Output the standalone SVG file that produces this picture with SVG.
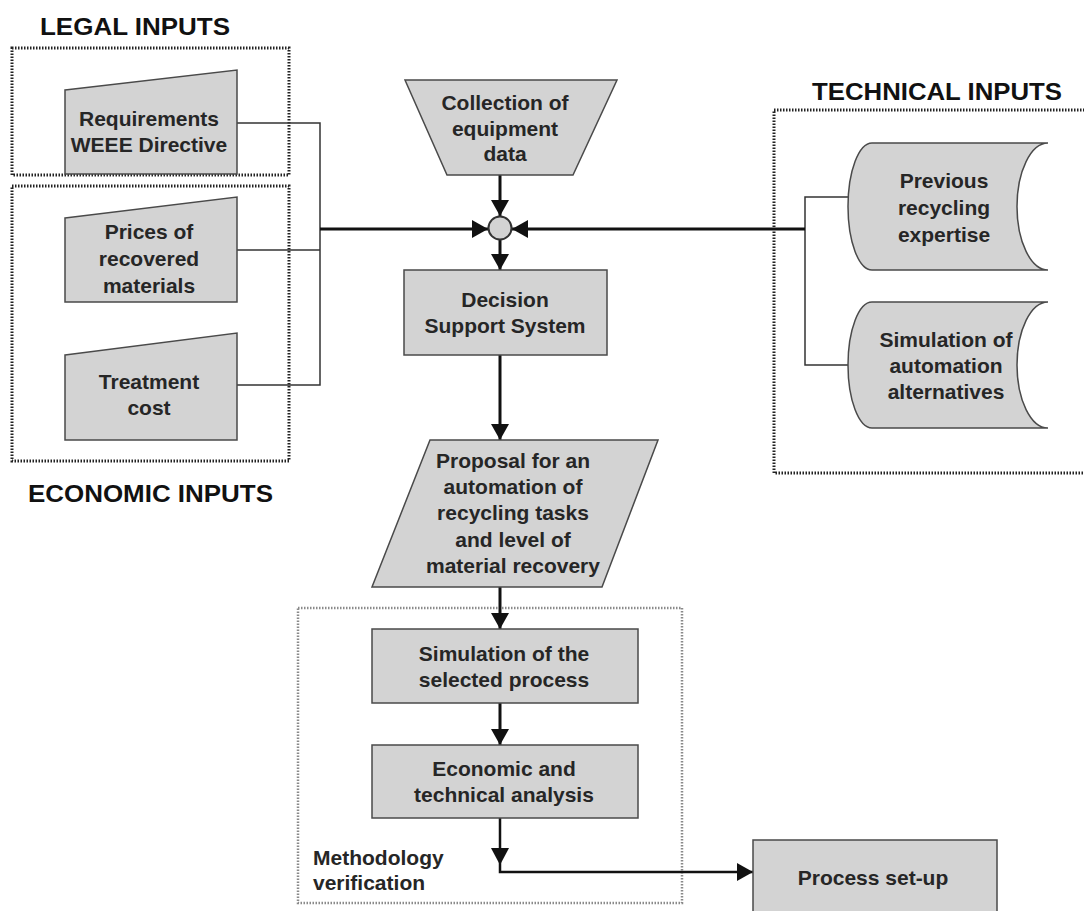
<svg xmlns="http://www.w3.org/2000/svg" width="1084" height="911" viewBox="0 0 1084 911">
<style>
  .shape { fill: #d3d3d3; stroke: #4a4a4a; stroke-width: 1.5; }
  .txt { font-family: "Liberation Sans", Arial, sans-serif; font-weight: bold; font-size: 21px; fill: #262626; text-anchor: middle; }
  .head { font-family: "Liberation Sans", Arial, sans-serif; font-weight: bold; font-size: 24px; fill: #111; }
  .group { fill: none; stroke: #222; stroke-width: 3; stroke-dasharray: 1.5 1.5; }
  .groupLight { fill: none; stroke: #8a8a8a; stroke-width: 2.5; stroke-dasharray: 1.5 1.5; }
  .thin { fill: none; stroke: #333; stroke-width: 1.5; }
  .thick { fill: none; stroke: #111; stroke-width: 3; }
</style>
<defs>
  <marker id="arr" viewBox="0 0 16 18" refX="16" refY="9" markerWidth="16" markerHeight="18" markerUnits="userSpaceOnUse" orient="auto">
    <path d="M0,0 L16,9 L0,18 Z" fill="#111"/>
  </marker>
</defs>
<rect width="1084" height="911" fill="#fff"/>

<!-- group boxes and headings -->
<g id="legal-inputs">
  <rect class="group" x="12" y="48" width="277" height="127"/>
  <text class="head" x="40" y="35" textLength="190" lengthAdjust="spacingAndGlyphs">LEGAL INPUTS</text>
</g>
<g id="economic-inputs">
  <rect class="group" x="12" y="186" width="277" height="275"/>
  <text class="head" x="28" y="502" font-size="25" textLength="245" lengthAdjust="spacingAndGlyphs">ECONOMIC INPUTS</text>
</g>
<g id="technical-inputs">
  <rect class="group" x="774" y="110" width="330" height="363"/>
  <text class="head" x="812" y="100" textLength="250" lengthAdjust="spacingAndGlyphs">TECHNICAL INPUTS</text>
</g>
<g id="methodology-verification">
  <rect class="groupLight" x="298" y="608" width="384" height="295"/>
  <text class="txt" x="313" y="865" style="text-anchor:start">Methodology</text>
  <text class="txt" x="313" y="890" style="text-anchor:start">verification</text>
</g>

<!-- connectors -->
<g id="connectors">
  <path class="thin" d="M237,123 H320 V385 H237"/>
  <path class="thin" d="M237,250 H320"/>
  <path class="thick" d="M320,229 H488" marker-end="url(#arr)"/>
  <path class="thin" d="M848,197 H805 V365 H848"/>
  <path class="thick" d="M805,229 H512" marker-end="url(#arr)"/>
  <path class="thick" d="M500,175 V216" marker-end="url(#arr)"/>
  <path class="thick" d="M500,240 V270" marker-end="url(#arr)"/>
  <path class="thick" d="M500,355 V440" marker-end="url(#arr)"/>
  <path class="thick" d="M500,587 V629" marker-end="url(#arr)"/>
  <path class="thick" d="M500,703 V745" marker-end="url(#arr)"/>
  <path class="thick" d="M500,818 V872 H753" marker-end="url(#arr)" style="stroke-width:2.5"/>
  <polygon points="491,848 509,848 500,865" fill="#111"/>
</g>

<!-- nodes -->
<g id="requirements">
  <path class="shape" d="M65,90 L237,70 L237,174 L65,174 Z"/>
  <text class="txt" x="149" y="126">Requirements</text>
  <text class="txt" x="149" y="152">WEEE Directive</text>
</g>
<g id="prices">
  <path class="shape" d="M65,218 L237,197 L237,302 L65,302 Z"/>
  <text class="txt" x="149" y="239">Prices of</text>
  <text class="txt" x="149" y="266">recovered</text>
  <text class="txt" x="149" y="293">materials</text>
</g>
<g id="treatment">
  <path class="shape" d="M65,355 L237,333 L237,440 L65,440 Z"/>
  <text class="txt" x="149" y="389">Treatment</text>
  <text class="txt" x="149" y="415">cost</text>
</g>
<g id="collection">
  <path class="shape" d="M405,80 L617,80 L573,175 L447,175 Z"/>
  <text class="txt" x="505" y="110">Collection of</text>
  <text class="txt" x="505" y="136">equipment</text>
  <text class="txt" x="505" y="161">data</text>
</g>
<g id="junction">
  <circle cx="500" cy="228" r="11.5" fill="#d3d3d3" stroke="#333" stroke-width="2"/>
</g>
<g id="dss">
  <rect class="shape" x="404" y="270" width="203" height="85"/>
  <text class="txt" x="505" y="307">Decision</text>
  <text class="txt" x="505" y="333">Support System</text>
</g>
<g id="previous">
  <path class="shape" d="M872,143 H1048 A31,63.5 0 0 0 1048,270 H872 A24,63.5 0 0 1 872,143 Z"/>
  <text class="txt" x="944" y="188">Previous</text>
  <text class="txt" x="944" y="215">recycling</text>
  <text class="txt" x="944" y="242">expertise</text>
</g>
<g id="simulation-alt">
  <path class="shape" d="M872,302 H1048 A31,63 0 0 0 1048,428 H872 A24,63 0 0 1 872,302 Z"/>
  <text class="txt" x="946" y="347">Simulation of</text>
  <text class="txt" x="946" y="373">automation</text>
  <text class="txt" x="946" y="399">alternatives</text>
</g>
<g id="proposal">
  <path class="shape" d="M430,440 L658,440 L602,587 L372,587 Z"/>
  <text class="txt" x="513" y="468">Proposal for an</text>
  <text class="txt" x="513" y="494">automation of</text>
  <text class="txt" x="513" y="520">recycling tasks</text>
  <text class="txt" x="513" y="547">and level of</text>
  <text class="txt" x="513" y="573">material recovery</text>
</g>
<g id="simulation-selected">
  <rect class="shape" x="372" y="629" width="266" height="74"/>
  <text class="txt" x="504" y="661">Simulation of the</text>
  <text class="txt" x="504" y="687">selected process</text>
</g>
<g id="analysis">
  <rect class="shape" x="372" y="745" width="266" height="73"/>
  <text class="txt" x="504" y="776">Economic and</text>
  <text class="txt" x="504" y="802">technical analysis</text>
</g>
<g id="process-setup">
  <rect class="shape" x="753" y="840" width="244" height="80"/>
  <text class="txt" x="873" y="885">Process set-up</text>
</g>
</svg>
